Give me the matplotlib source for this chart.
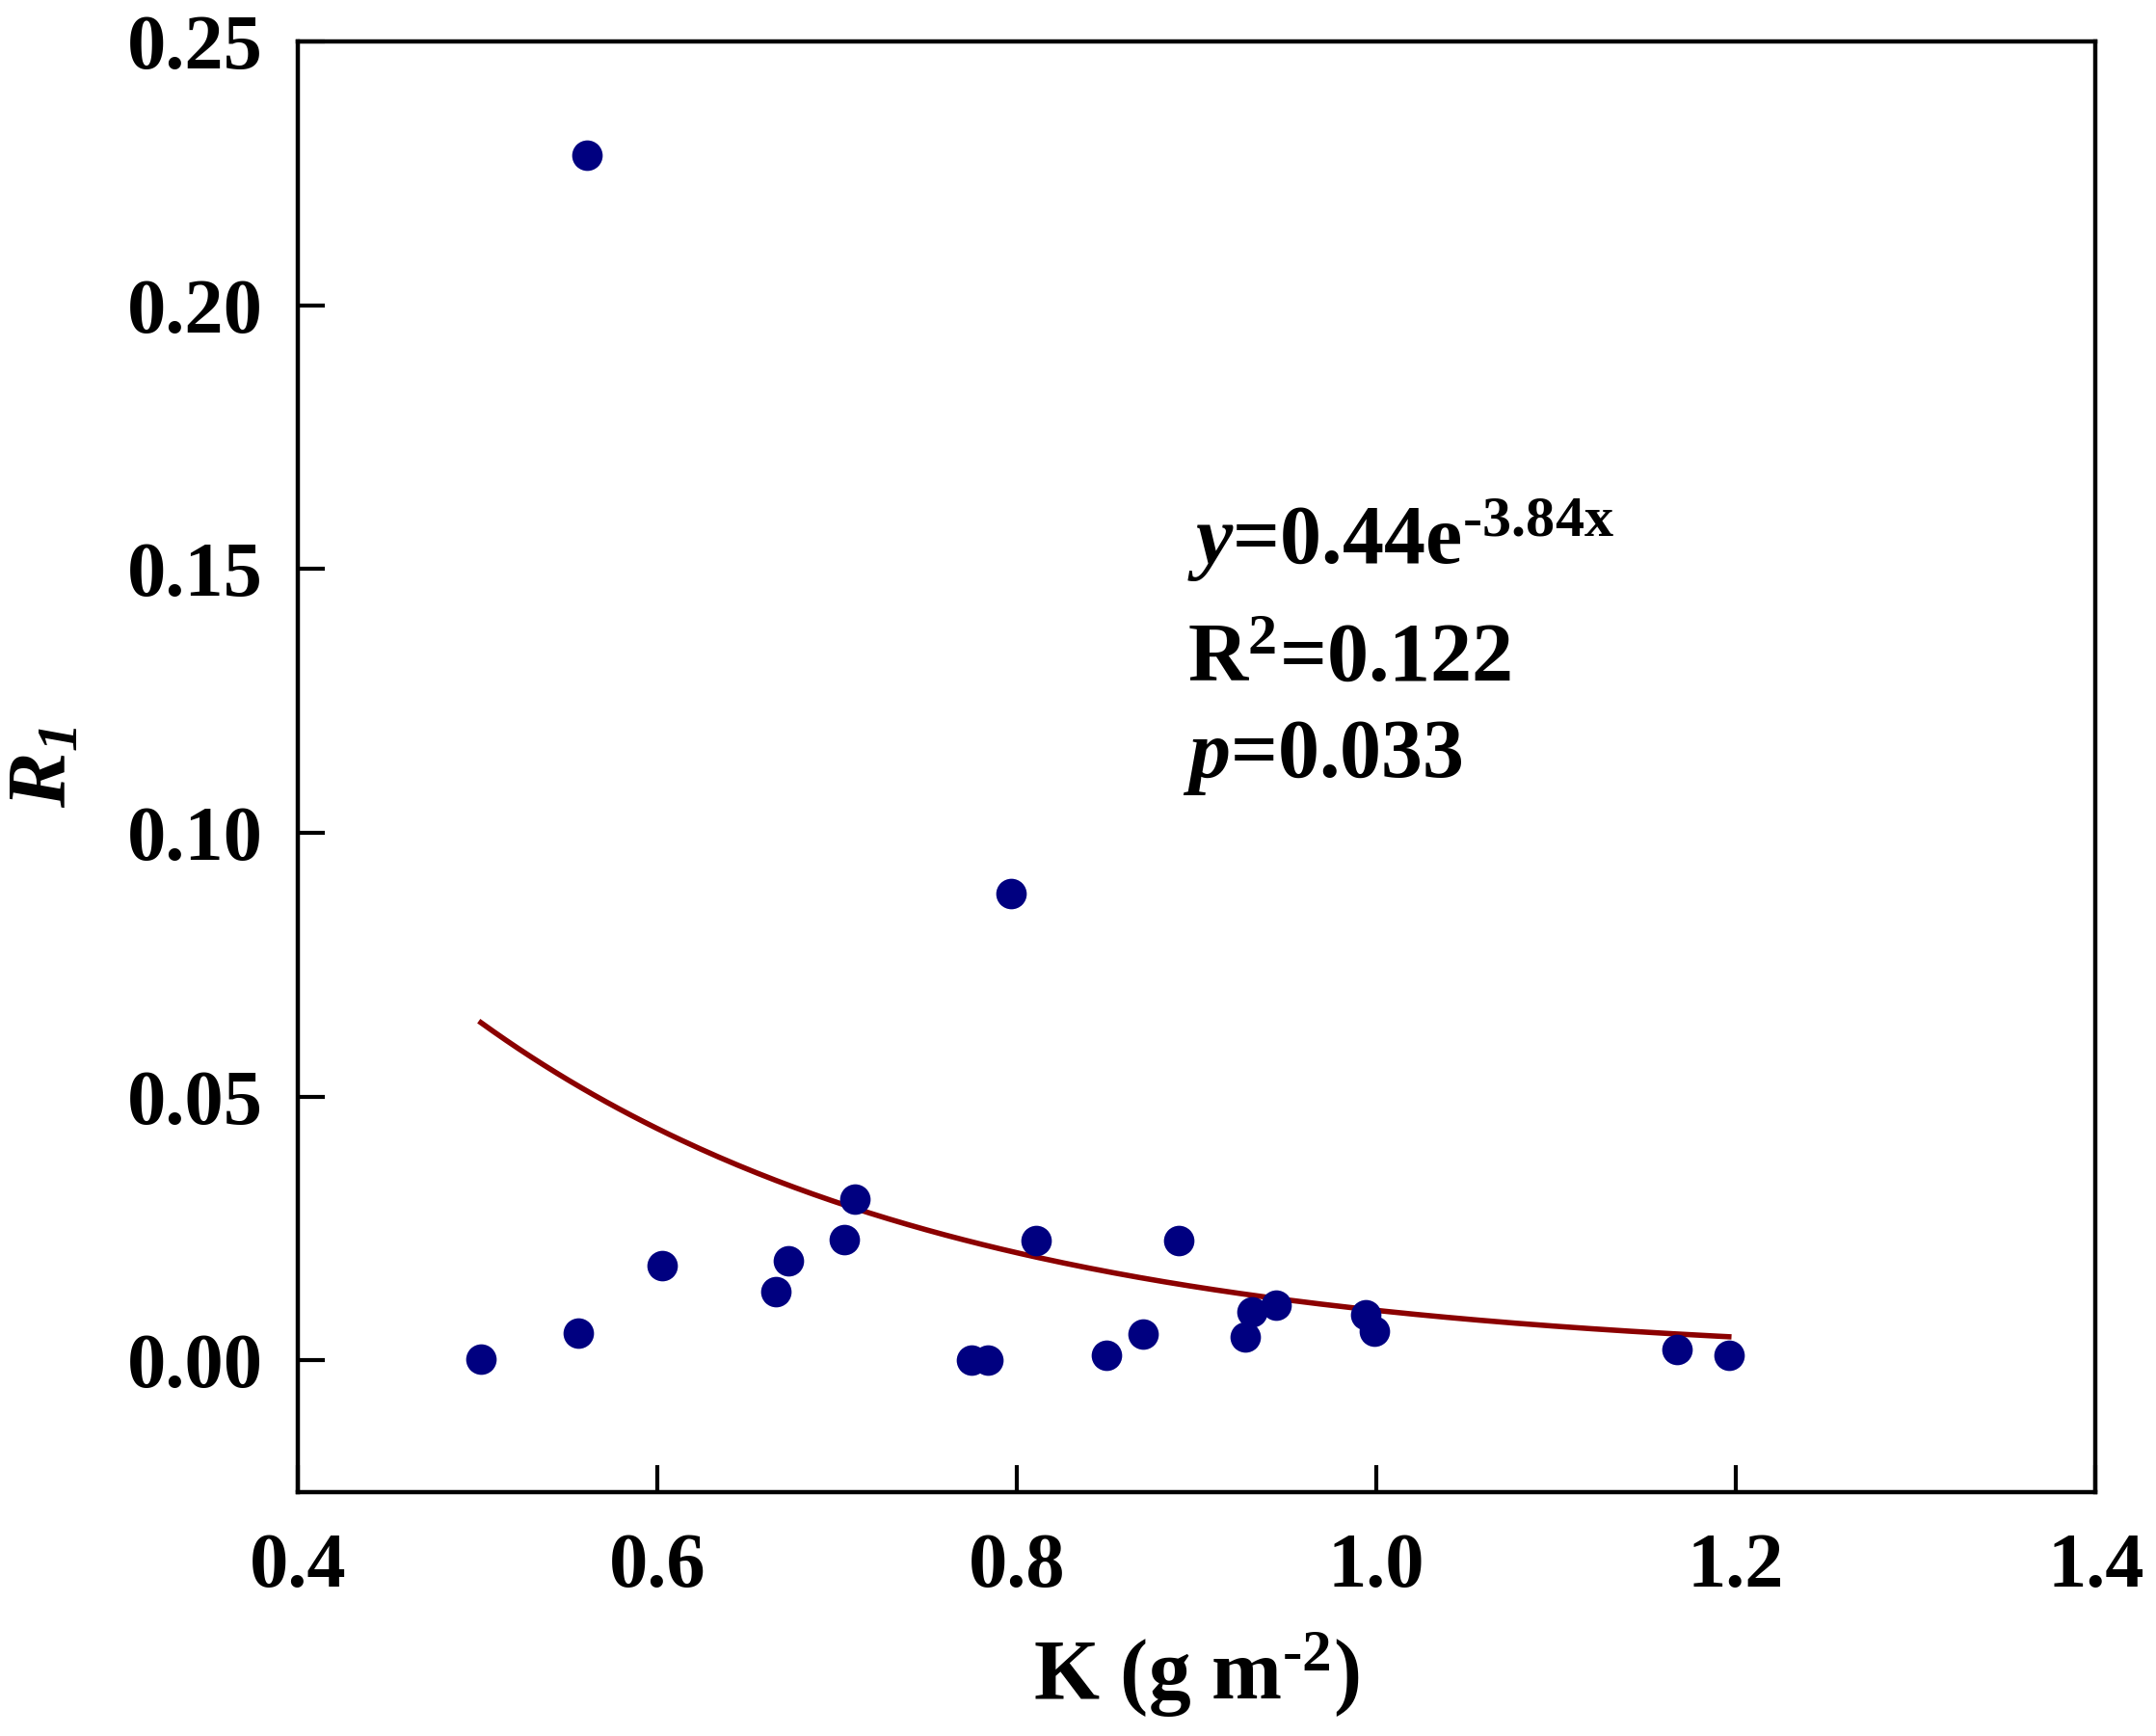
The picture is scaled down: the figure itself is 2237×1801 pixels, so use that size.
import numpy as np
import matplotlib
matplotlib.use("Agg")
import matplotlib.pyplot as plt

# data
k_vals = [0.502, 0.556, 0.561, 0.603, 0.666, 0.673, 0.704, 0.710, 0.775, 0.784,
          0.797, 0.811, 0.850, 0.870, 0.890, 0.927, 0.931, 0.944, 0.994, 0.999,
          1.167, 1.196]
r1_vals = [0.0003, 0.0052, 0.2284, 0.0180, 0.0130, 0.0188, 0.0229, 0.0305, 0.0001, 0.0001,
           0.0885, 0.0227, 0.0010, 0.0049, 0.0227, 0.0044, 0.0091, 0.0104, 0.0086, 0.0055,
           0.0021, 0.0010]
fit_a = 0.44
fit_b = -3.84
xticks = [0.4, 0.6, 0.8, 1.0, 1.2, 1.4]
yticks = [0.00, 0.05, 0.10, 0.15, 0.20, 0.25]

plt.rcParams['font.family'] = ['Liberation Serif', 'DejaVu Serif']
plt.rcParams['font.weight'] = 'bold'
plt.rcParams['mathtext.fontset'] = 'custom'
plt.rcParams['mathtext.rm'] = 'Liberation Serif:bold'
plt.rcParams['mathtext.it'] = 'Liberation Serif:italic:bold'
plt.rcParams['mathtext.default'] = 'regular'

fig = plt.figure(figsize=(22.37, 18.01), dpi=100)
ax = fig.add_axes([0.138, 0.1405, 0.834, 0.8355])

ax.scatter(k_vals, r1_vals, s=520, color='#000080', zorder=3, linewidths=0)

xf = np.linspace(min(k_vals), max(k_vals), 200)
ax.plot(xf, fit_a * np.exp(fit_b * xf), color='#8B0000', lw=4, zorder=2)

ax.set_xlim(0.4, 1.4)
ax.set_ylim(-0.025, 0.25)
ax.set_xticks(xticks)
ax.set_yticks(yticks)
ax.set_xticklabels(['%.1f' % t for t in xticks])
ax.set_yticklabels(['%.2f' % t for t in yticks])
ax.tick_params(direction='in', length=20, width=3, labelsize=58, top=False, right=False)
ax.tick_params(axis='y', pad=26)
ax.tick_params(axis='x', pad=30)
for s in ax.spines.values():
    s.set_linewidth(3.2)

hy = '\u2010'
ax.set_xlabel('K (g m$^{%s2}$)' % hy, fontsize=63, fontweight='bold', labelpad=20)
ax.set_ylabel('$R_{1}$', fontsize=62, fontstyle='italic', fontweight='bold', labelpad=32)

ax.text(0.495, 0.640, r'$\mathit{y}$=0.44e$^{%s3.84x}$' % hy, transform=ax.transAxes, fontsize=62, fontweight='bold')
ax.text(0.495, 0.559, 'R$^{2}$=0.122', transform=ax.transAxes, fontsize=62, fontweight='bold')
ax.text(0.492, 0.493, r'$\mathit{p}$=0.033', transform=ax.transAxes, fontsize=62, fontweight='bold')

fig.savefig('out.png', dpi=100)
